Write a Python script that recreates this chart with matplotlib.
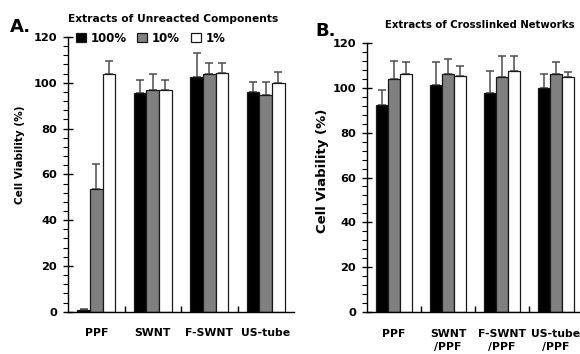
import numpy as np
import matplotlib
matplotlib.use("Agg")
import matplotlib.pyplot as plt
from matplotlib.ticker import MultipleLocator, FixedLocator

plt.rcParams['font.family'] = 'DejaVu Sans'
plt.rcParams['font.weight'] = 'bold'

# Data
series_labels = ['100%', '10%', '1%']
colors = ['black', '#808080', 'white']

cats_a = ['PPF', 'SWNT', 'F-SWNT', 'US-tube']
a_100 = [0.6, 95.6, 102.4, 95.9]
a_100_err = [0.5, 5.4, 10.4, 4.3]
a_10 = [53.4, 96.8, 103.9, 94.5]
a_10_err = [11.1, 7.1, 4.8, 5.7]
a_1 = [103.8, 96.8, 104.4, 99.7]
a_1_err = [5.7, 4.5, 4.3, 5.1]

cats_b = ['PPF', 'SWNT\n/PPF', 'F-SWNT\n/PPF', 'US-tube\n/PPF']
b_100 = [92.3, 101.2, 97.7, 99.8]
b_100_err = [6.5, 10.2, 9.7, 6.4]
b_10 = [103.7, 106.2, 104.6, 105.9]
b_10_err = [8.0, 6.7, 9.6, 5.4]
b_1 = [106.2, 105.0, 107.4, 104.6]
b_1_err = [5.1, 4.8, 6.8, 2.5]

fig = plt.figure(figsize=(5.8, 3.54), dpi=100)
ax_a = fig.add_axes([68/580, 42.3/354, 226/580, 274.7/354])
ax_b = fig.add_axes([367/580, 41.7/354, 216/580, 269.6/354])

width = 0.225


def draw_panel(ax, cats, vals, errs, label_size, label_xy):
    x = np.arange(len(cats))
    for i, (v, e) in enumerate(zip(vals, errs)):
        pos = x + (i - 1) * width
        ax.bar(pos, v, width, color=colors[i], edgecolor='#1a1a1a',
               linewidth=0.9, label=series_labels[i], zorder=2)
        # only the upper half of the error bars is shown
        ax.errorbar(pos, v, yerr=[np.zeros(len(e)), e], fmt='none',
                    ecolor='#4d4d4d', elinewidth=1.1, capsize=3,
                    capthick=1.1, zorder=1)
    ax.set_xlim(-0.5, len(cats) - 0.5)
    ax.set_ylim(0, 120)
    ax.spines['top'].set_visible(False)
    ax.spines['right'].set_visible(False)
    ax.spines['left'].set_linewidth(1)
    ax.spines['bottom'].set_linewidth(1)
    ax.yaxis.set_major_locator(MultipleLocator(20))
    ax.yaxis.set_minor_locator(MultipleLocator(4))
    ax.tick_params(axis='y', which='major', direction='inout', length=7,
                   width=1, labelsize=8.2, pad=4.5)
    ax.tick_params(axis='y', which='minor', direction='out', length=3.5,
                   width=0.8)
    # group separators as major ticks, category names on minor ticks
    ax.xaxis.set_major_locator(FixedLocator(x[:-1] + 0.5))
    ax.xaxis.set_minor_locator(FixedLocator(x))
    ax.set_xticklabels([], minor=False)
    ax.set_xticklabels(cats, minor=True, fontsize=7.8, fontweight='bold',
                       linespacing=1.35)
    ax.tick_params(axis='x', which='major', direction='in', length=4, width=1)
    ax.tick_params(axis='x', which='minor', length=0, pad=12)
    ax.set_ylabel('Cell Viability (%)', fontsize=label_size, fontweight='bold')
    ax.yaxis.set_label_coords(*label_xy)


draw_panel(ax_a, cats_a, [a_100, a_10, a_1], [a_100_err, a_10_err, a_1_err],
           7.6, (-0.19, 0.57))
draw_panel(ax_b, cats_b, [b_100, b_10, b_1], [b_100_err, b_10_err, b_1_err],
           9.5, (-0.175, 0.524))

ax_a.legend(loc='upper left', bbox_to_anchor=(0.035, 1.02), ncol=3,
            frameon=False, fontsize=8.5, handlelength=0.85, handleheight=0.85,
            handletextpad=0.4, columnspacing=0.9, borderpad=0,
            borderaxespad=0)

fig.text(173/580, 1 - 19/354, 'Extracts of Unreacted Components',
         ha='center', va='center', fontsize=7.7, fontweight='bold')
fig.text(480/580, 1 - 25/354, 'Extracts of Crosslinked Networks',
         ha='center', va='center', fontsize=7.3, fontweight='bold')
fig.text(10/580, 1 - 27/354, 'A.', ha='left', va='center', fontsize=13,
         fontweight='bold')
fig.text(315/580, 1 - 31/354, 'B.', ha='left', va='center', fontsize=13,
         fontweight='bold')

fig.savefig('out.png', dpi=100)
